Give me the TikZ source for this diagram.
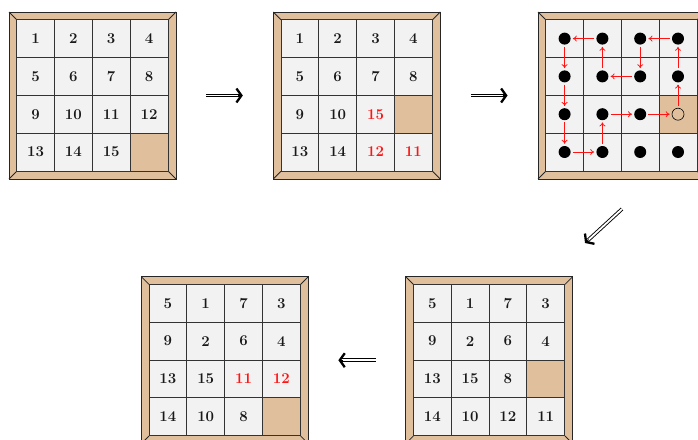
\documentclass[tikz,border=0pt]{standalone}
\usetikzlibrary{arrows.meta,calc}
\definecolor{frametan}{RGB}{224,191,157}
\definecolor{cellgray}{RGB}{242,242,242}
\definecolor{movered}{RGB}{255,20,20}
\tikzset{
  outerframe/.style={draw=black!85, fill=frametan, line width=0.9pt, minimum size=167pt, inner sep=0pt},
  innerframe/.style={draw=black!85, line width=0.8pt},
  cell/.style={draw=black!80, fill=cellgray, minimum size=37.8pt, inner sep=0pt, line width=0.8pt,
    font=\fontsize{15}{17}\selectfont\bfseries, text=black!90},
  redcell/.style={cell, text=movered},
  blank/.style={cell, fill=frametan},
  dline/.style={double, double distance=1.8pt, line width=0.9pt, shorten >=2.5pt},
  dhead/.style={line width=0.9pt, -{Straight Barb[length=5pt,width=14pt,line width=2.3pt]}},
  dot/.style={circle, fill=black, minimum size=12pt, inner sep=0pt},
  hole/.style={circle, draw=black, line width=0.6pt, minimum size=12pt, inner sep=0pt},
  move/.style={movered, line width=0.8pt, -{To[length=4pt,width=6pt]}, shorten >=2pt, shorten <=2pt},
}
% #1 name, #2 x left, #3 y top, #4 list style/text
\newcommand\pzboard[4]{%
  \node[outerframe] (#1) at (#2+83.5,#3+83.5) {};
  \draw[innerframe] (#2,#3) -- ++(7.7,7.7) (#2+167,#3) -- ++(-7.7,7.7)
    (#2,#3+167) -- ++(7.7,-7.7) (#2+167,#3+167) -- ++(-7.7,-7.7);
  \foreach \s/\t [count=\k from 0] in {#4} {
    \pgfmathtruncatemacro\rr{int(\k/4)}
    \pgfmathtruncatemacro\cc{mod(\k,4)}
    \node[\s] (#1-\rr-\cc) at (#2+7.7+18.9+37.8*\cc, #3+7.7+18.9+37.8*\rr) {\t};
  }
}
\newcommand\bigarr[2]{%
  \draw[dline] (#1) -- (#2);
  \draw[dhead] ($(#2)!5pt!(#1)$) -- (#2);
}
\begin{document}
\begin{tikzpicture}[x=1pt,y=-1pt]
\useasboundingbox (0,0) rectangle (698,439);
\clip (0,0) rectangle (698,439);

\pzboard{b1}{9}{12}{cell/1,cell/2,cell/3,cell/4,cell/5,cell/6,cell/7,cell/8,cell/9,cell/10,cell/11,cell/12,cell/13,cell/14,cell/15,blank/{}}
\pzboard{b2}{273.3}{12}{cell/1,cell/2,cell/3,cell/4,cell/5,cell/6,cell/7,cell/8,cell/9,cell/10,redcell/15,blank/{},cell/13,cell/14,redcell/12,redcell/11}
\pzboard{b3}{538}{12}{cell/{},cell/{},cell/{},cell/{},cell/{},cell/{},cell/{},cell/{},cell/{},cell/{},cell/{},blank/{},cell/{},cell/{},cell/{},cell/{}}
\pzboard{b5}{405.7}{276.7}{cell/5,cell/1,cell/7,cell/3,cell/9,cell/2,cell/6,cell/4,cell/13,cell/15,cell/8,blank/{},cell/14,cell/10,cell/12,cell/11}
\pzboard{b4}{141.3}{276.7}{cell/5,cell/1,cell/7,cell/3,cell/9,cell/2,cell/6,cell/4,cell/13,cell/15,redcell/11,redcell/12,cell/14,cell/10,cell/8,blank/{}}

% dots on board 3
\foreach \r/\c in {0/0,0/1,0/2,0/3,1/0,1/1,1/2,1/3,2/0,2/1,2/2,3/0,3/1,3/2,3/3}
  \node[dot] (d-\r-\c) at (b3-\r-\c) {};
\node[hole] (d-2-3) at (b3-2-3) {};

% moves
\foreach \a/\b in {2-3/1-3, 1-3/0-3, 0-3/0-2, 0-2/1-2, 1-2/1-1, 1-1/0-1, 0-1/0-0,
  0-0/1-0, 1-0/2-0, 2-0/3-0, 3-0/3-1, 3-1/2-1, 2-1/2-2, 2-2/2-3}
  \draw[move] (d-\a) -- (d-\b);

% big arrows
\coordinate (a1s) at ($(b1.east)+(30,0)$);
\coordinate (a1e) at ($(b2.west)-(30,0)$);
\coordinate (a2s) at ($(b2.east)+(30,0)$);
\coordinate (a2e) at ($(b3.west)-(30,0)$);
\coordinate (a3s) at (622,209);
\coordinate (a3e) at (585,243);
\coordinate (a4s) at ($(b5.west)-(29.7,0)$);
\coordinate (a4e) at ($(b4.east)+(29.6,0)$);
\bigarr{a1s}{a1e}
\bigarr{a2s}{a2e}
\bigarr{a3s}{a3e}
\bigarr{a4s}{a4e}
\end{tikzpicture}
\end{document}
